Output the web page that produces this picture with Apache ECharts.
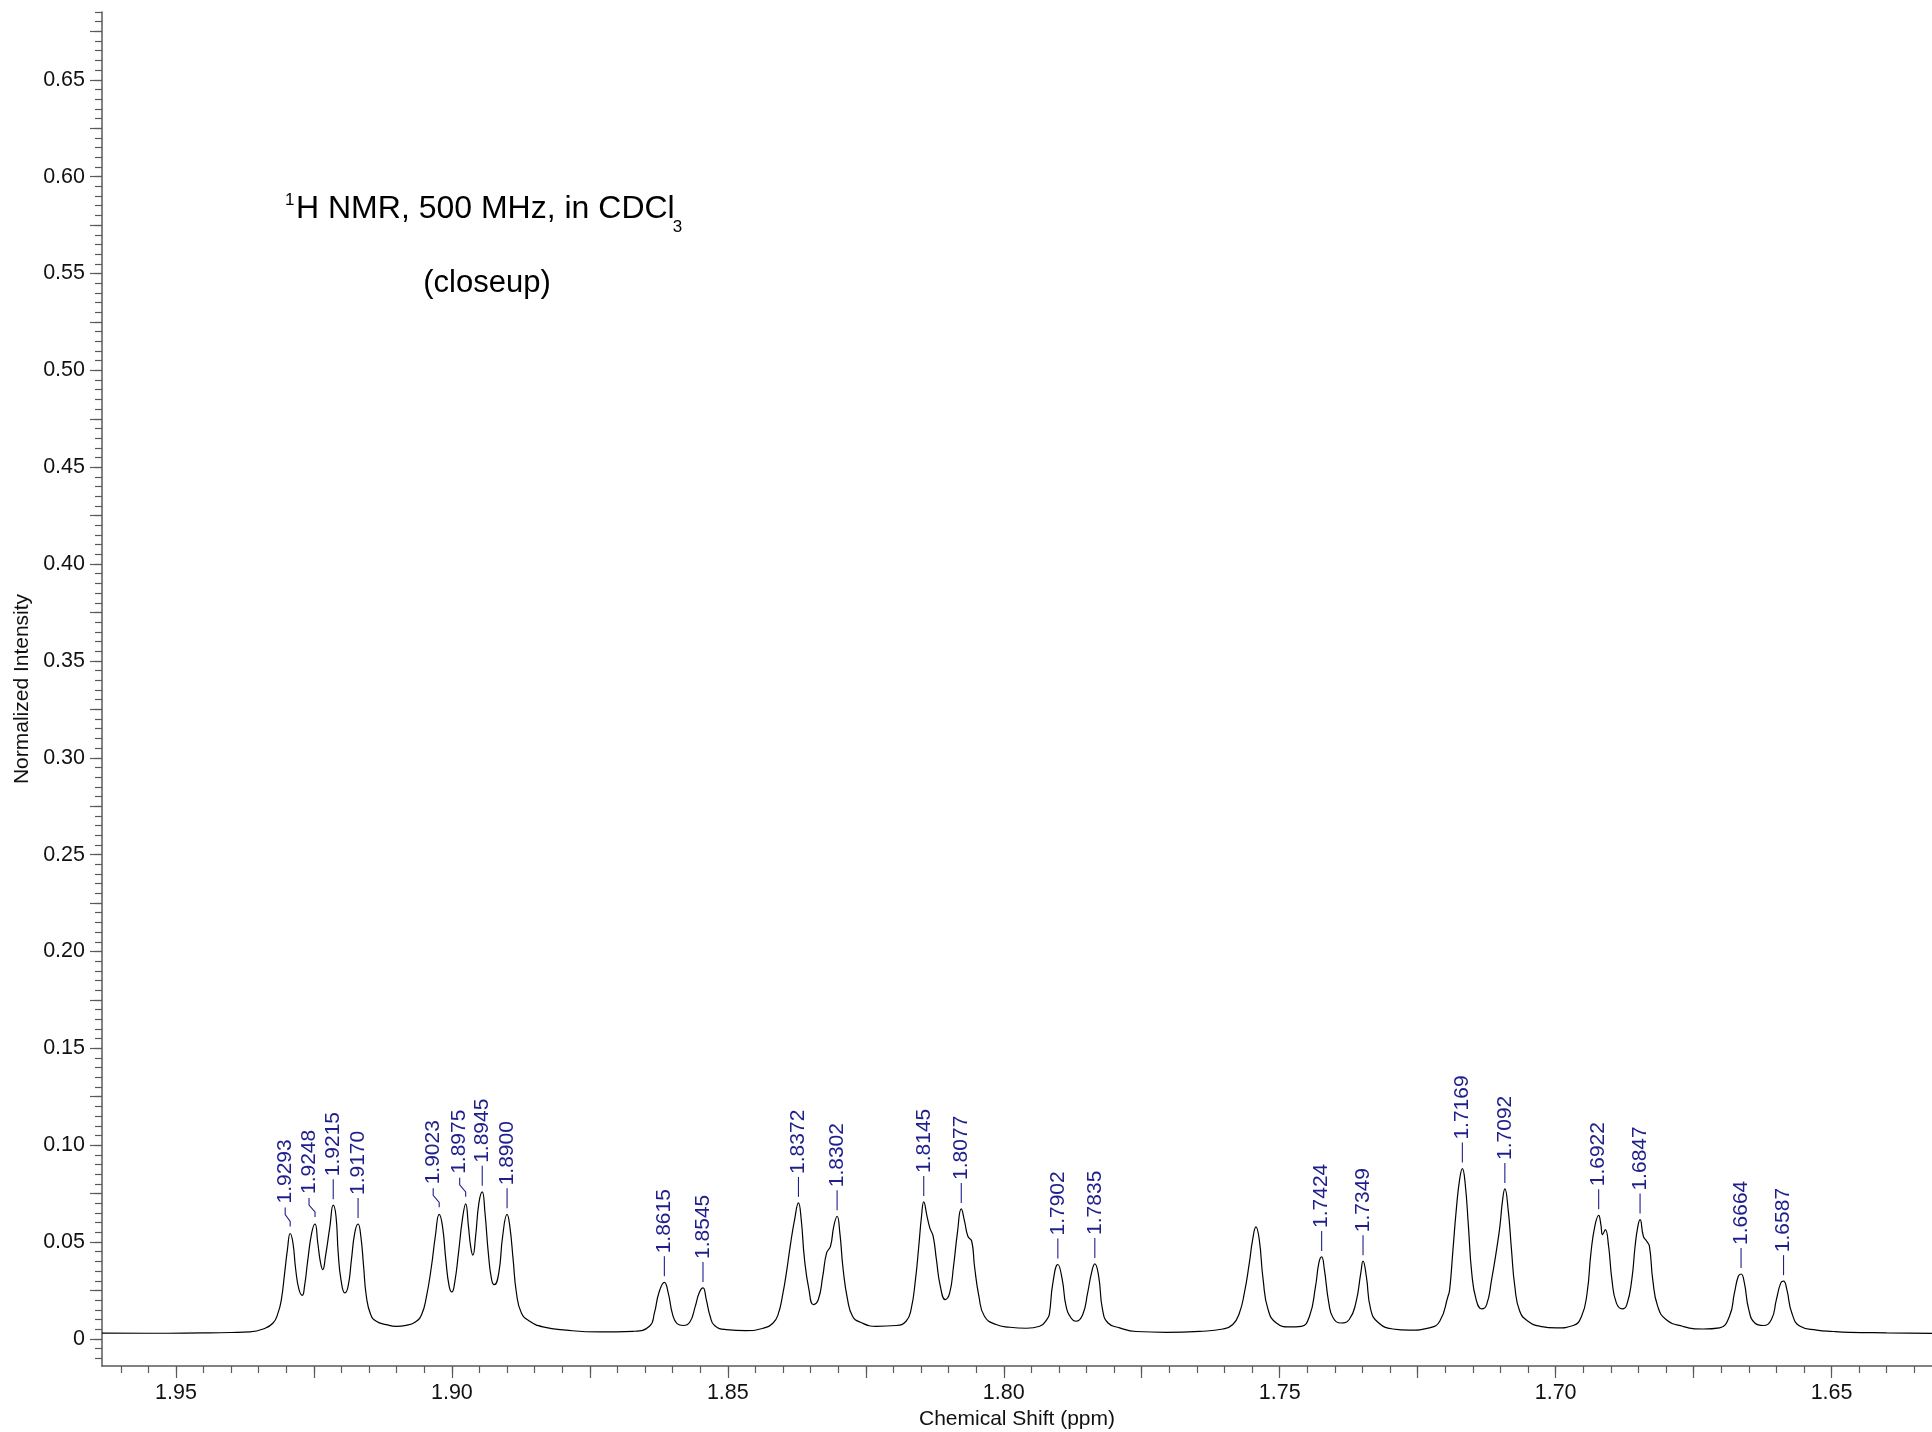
<!DOCTYPE html>
<html>
<head>
<meta charset="utf-8">
<title>1H NMR closeup</title>
<script src="https://cdn.jsdelivr.net/npm/echarts@6/dist/echarts.min.js"></script>
<style>
  html, body { margin: 0; padding: 0; background: #fff; }
  #chart { width: 1932px; height: 1432px; }
</style>
</head>
<body>
<div id="chart"></div>
<script>
// Spectrum trace: [chemical shift (ppm), normalized intensity]
const spectrum = [
  [1.9634, 0.0030], [1.9550, 0.0029], [1.9450, 0.0031], [1.9400, 0.0033],
  [1.9366, 0.0036], [1.9342, 0.0051], [1.9324, 0.0082], [1.9315, 0.0134],
  [1.9309, 0.0203], [1.9303, 0.0341], [1.9298, 0.0461], [1.9293, 0.0544],
  [1.9288, 0.0495], [1.9283, 0.0358], [1.9277, 0.0254], [1.9271, 0.0225],
  [1.9267, 0.0272], [1.9261, 0.0409], [1.9254, 0.0547], [1.9248, 0.0593],
  [1.9243, 0.0495], [1.9238, 0.0392], [1.9234, 0.0358], [1.9229, 0.0427],
  [1.9221, 0.0581], [1.9215, 0.0690], [1.9210, 0.0633], [1.9206, 0.0444],
  [1.9201, 0.0306], [1.9194, 0.0237], [1.9188, 0.0272], [1.9182, 0.0409],
  [1.9176, 0.0547], [1.9170, 0.0593], [1.9165, 0.0530], [1.9160, 0.0375],
  [1.9155, 0.0220], [1.9147, 0.0125], [1.9137, 0.0091], [1.9119, 0.0074],
  [1.9101, 0.0065], [1.9083, 0.0070], [1.9067, 0.0086], [1.9055, 0.0125],
  [1.9046, 0.0220], [1.9037, 0.0375], [1.9030, 0.0530], [1.9023, 0.0643],
  [1.9017, 0.0581], [1.9011, 0.0409], [1.9005, 0.0272], [1.9000, 0.0242],
  [1.8995, 0.0289], [1.8988, 0.0444], [1.8981, 0.0616], [1.8975, 0.0697],
  [1.8970, 0.0581], [1.8966, 0.0478], [1.8962, 0.0432], [1.8957, 0.0530],
  [1.8951, 0.0702], [1.8945, 0.0759], [1.8940, 0.0650], [1.8934, 0.0444],
  [1.8928, 0.0306], [1.8923, 0.0280], [1.8915, 0.0341], [1.8908, 0.0530],
  [1.8900, 0.0643], [1.8895, 0.0581], [1.8889, 0.0409], [1.8883, 0.0237],
  [1.8874, 0.0134], [1.8859, 0.0091], [1.8835, 0.0062], [1.8793, 0.0045],
  [1.8732, 0.0036], [1.8672, 0.0039],
  [1.8642, 0.0065], [1.8633, 0.0134], [1.8625, 0.0237], [1.8615, 0.0292],
  [1.8608, 0.0237], [1.8600, 0.0125], [1.8592, 0.0079], [1.8581, 0.0069],
  [1.8569, 0.0086], [1.8559, 0.0168], [1.8552, 0.0237], [1.8545, 0.0263],
  [1.8539, 0.0203], [1.8532, 0.0117], [1.8524, 0.0069], [1.8503, 0.0048],
  [1.8467, 0.0043], [1.8436, 0.0055], [1.8418, 0.0082], [1.8409, 0.0125],
  [1.8400, 0.0237], [1.8393, 0.0358], [1.8387, 0.0478], [1.8379, 0.0616],
  [1.8372, 0.0702], [1.8367, 0.0616], [1.8361, 0.0409], [1.8353, 0.0254],
  [1.8345, 0.0177], [1.8336, 0.0203], [1.8328, 0.0323], [1.8321, 0.0444],
  [1.8314, 0.0478], [1.8308, 0.0581], [1.8302, 0.0633], [1.8297, 0.0547],
  [1.8291, 0.0358], [1.8283, 0.0203], [1.8274, 0.0117], [1.8260, 0.0086],
  [1.8231, 0.0065], [1.8195, 0.0069], [1.8177, 0.0091], [1.8168, 0.0151],
  [1.8160, 0.0306], [1.8154, 0.0478], [1.8149, 0.0633], [1.8145, 0.0707],
  [1.8139, 0.0633], [1.8134, 0.0573], [1.8128, 0.0530], [1.8122, 0.0409],
  [1.8115, 0.0272], [1.8106, 0.0203], [1.8098, 0.0237], [1.8091, 0.0375],
  [1.8084, 0.0547], [1.8077, 0.0671], [1.8071, 0.0607], [1.8065, 0.0530],
  [1.8058, 0.0504], [1.8053, 0.0375], [1.8045, 0.0220], [1.8035, 0.0117],
  [1.8014, 0.0074], [1.7989, 0.0060], [1.7959, 0.0055], [1.7935, 0.0065],
  [1.7920, 0.0108],
  [1.7917, 0.0134], [1.7911, 0.0289], [1.7902, 0.0384], [1.7894, 0.0306],
  [1.7887, 0.0168], [1.7878, 0.0108], [1.7869, 0.0091], [1.7857, 0.0125],
  [1.7848, 0.0237], [1.7841, 0.0341], [1.7835, 0.0387], [1.7828, 0.0323],
  [1.7821, 0.0151], [1.7811, 0.0082], [1.7790, 0.0057], [1.7760, 0.0038],
  [1.7706, 0.0034], [1.7645, 0.0039], [1.7603, 0.0051], [1.7585, 0.0074],
  [1.7573, 0.0134], [1.7564, 0.0237], [1.7555, 0.0392], [1.7549, 0.0512],
  [1.7543, 0.0578], [1.7537, 0.0512], [1.7530, 0.0306], [1.7521, 0.0151],
  [1.7506, 0.0082], [1.7482, 0.0062], [1.7461, 0.0065], [1.7446, 0.0117],
  [1.7435, 0.0272], [1.7429, 0.0392], [1.7424, 0.0423], [1.7419, 0.0358],
  [1.7411, 0.0186], [1.7403, 0.0108], [1.7389, 0.0082], [1.7374, 0.0100],
  [1.7362, 0.0186], [1.7353, 0.0341], [1.7349, 0.0401], [1.7343, 0.0323],
  [1.7335, 0.0151], [1.7322, 0.0086], [1.7295, 0.0051], [1.7265, 0.0045],
  [1.7229, 0.0057], [1.7210, 0.0091], [1.7195, 0.0220],
  [1.7192, 0.0254], [1.7186, 0.0461], [1.7180, 0.0667], [1.7174, 0.0822],
  [1.7169, 0.0879], [1.7164, 0.0805], [1.7158, 0.0581], [1.7152, 0.0341],
  [1.7144, 0.0203], [1.7134, 0.0155], [1.7125, 0.0177], [1.7116, 0.0306],
  [1.7107, 0.0461], [1.7101, 0.0581], [1.7096, 0.0719], [1.7092, 0.0774],
  [1.7086, 0.0667], [1.7080, 0.0461], [1.7074, 0.0272], [1.7065, 0.0143],
  [1.7050, 0.0091], [1.7028, 0.0065], [1.6998, 0.0057], [1.6968, 0.0069],
  [1.6953, 0.0117], [1.6943, 0.0237], [1.6936, 0.0444], [1.6929, 0.0581],
  [1.6922, 0.0638], [1.6918, 0.0590], [1.6915, 0.0538], [1.6910, 0.0564],
  [1.6904, 0.0478], [1.6898, 0.0306], [1.6890, 0.0186], [1.6879, 0.0155],
  [1.6871, 0.0177], [1.6862, 0.0306], [1.6856, 0.0478], [1.6851, 0.0581],
  [1.6847, 0.0616], [1.6841, 0.0530], [1.6835, 0.0504], [1.6830, 0.0478],
  [1.6824, 0.0306], [1.6815, 0.0168], [1.6800, 0.0100], [1.6770, 0.0065],
  [1.6733, 0.0051], [1.6703, 0.0057], [1.6685, 0.0117], [1.6676, 0.0237],
  [1.6669, 0.0323], [1.6664, 0.0335], [1.6658, 0.0289], [1.6650, 0.0151],
  [1.6639, 0.0082], [1.6624, 0.0069], [1.6609, 0.0100], [1.6600, 0.0203],
  [1.6592, 0.0289], [1.6587, 0.0298], [1.6581, 0.0254], [1.6572, 0.0134],
  [1.6557, 0.0065], [1.6527, 0.0045], [1.6497, 0.0038], [1.6467, 0.0034],
  [1.6400, 0.0031], [1.6318, 0.0028]
];

// Picked peak positions (ppm)
const peakShifts = [
  1.9293, 1.9248, 1.9215, 1.9170, 1.9023, 1.8975, 1.8945, 1.8900,
  1.8615, 1.8545, 1.8372, 1.8302, 1.8145, 1.8077, 1.7902, 1.7835,
  1.7424, 1.7349, 1.7169, 1.7092, 1.6922, 1.6847, 1.6664, 1.6587
];

// Axis tick labels
const xTickLabels = [1.95, 1.90, 1.85, 1.80, 1.75, 1.70, 1.65];
const yTickLabels = [0, 0.05, 0.10, 0.15, 0.20, 0.25, 0.30, 0.35, 0.40, 0.45, 0.50, 0.55, 0.60, 0.65];

// Axis extents
const X_MIN = 1.6318, X_MAX = 1.9634;
const Y_MIN = -0.014, Y_MAX = 0.685;

// Tick positions: long ticks every 0.025, short ticks every 0.005
function ticksBetween(lo, hi, step) {
  const out = [];
  const start = Math.ceil(lo / step - 1e-9);
  const end = Math.floor(hi / step + 1e-9);
  for (let i = start; i <= end; i++) out.push(+(i * step).toFixed(4));
  return out;
}
const xMajorTicks = ticksBetween(X_MIN, X_MAX, 0.025);
const xMinorTicks = ticksBetween(X_MIN, X_MAX, 0.005);
const yMajorTicks = ticksBetween(Y_MIN, Y_MAX, 0.025);
const yMinorTicks = ticksBetween(Y_MIN, Y_MAX, 0.005);

// Labels whose connector is bent sideways to make room (px)
const labelNudge = { '1.9293': -5, '1.9248': -6, '1.9023': -6, '1.8975': -6 };

const FONT = '"Liberation Sans", Arial, Helvetica, sans-serif';
const AXIS_COLOR = '#5a5a5a';
const PEAK_COLOR = '#1f1f8c';

// Intensity of the trace at each picked shift
const peakPoints = peakShifts.map(s => {
  const hit = spectrum.find(p => Math.abs(p[0] - s) < 1e-6);
  return [s, hit ? hit[1] : 0];
});

const chart = echarts.init(document.getElementById('chart'), null, { renderer: 'canvas' });

// Title text geometry
const measureCtx = document.createElement('canvas').getContext('2d');
measureCtx.font = '32px ' + FONT;
const titleMain = 'H NMR, 500 MHz, in CDCl';
const titleX = 296;
const titleW = measureCtx.measureText(titleMain).width;

const axisNameStyle = { fontSize: 21, color: '#111', fontFamily: FONT };
const axisLabelStyle = { fontSize: 21.5, color: '#111', fontFamily: FONT };

chart.setOption({
  backgroundColor: '#ffffff',
  animation: false,
  grid: { left: 102, right: 0, top: 12, bottom: 66, containLabel: false, outerBoundsMode: 'none' },
  xAxis: [
    {
      type: 'value', inverse: true, min: X_MIN, max: X_MAX, position: 'bottom',
      axisLine: { show: true, onZero: false, lineStyle: { color: AXIS_COLOR, width: 1.5 } },
      axisTick: { show: true, customValues: xMajorTicks, length: 12, lineStyle: { color: AXIS_COLOR, width: 1.2 } },
      axisLabel: { show: true, customValues: xTickLabels, formatter: v => v.toFixed(2), margin: 16, ...axisLabelStyle },
      splitLine: { show: false },
      name: 'Chemical Shift (ppm)', nameLocation: 'middle', nameGap: 40, nameTextStyle: axisNameStyle
    },
    {
      type: 'value', inverse: true, min: X_MIN, max: X_MAX, position: 'bottom', gridIndex: 0,
      axisLine: { show: false, onZero: false },
      axisTick: { show: true, customValues: xMinorTicks, length: 7, lineStyle: { color: AXIS_COLOR, width: 1.2 } },
      axisLabel: { show: false },
      splitLine: { show: false }
    }
  ],
  yAxis: [
    {
      type: 'value', min: Y_MIN, max: Y_MAX, position: 'left',
      axisLine: { show: true, onZero: false, lineStyle: { color: AXIS_COLOR, width: 1.5 } },
      axisTick: { show: true, customValues: yMajorTicks, length: 12, lineStyle: { color: AXIS_COLOR, width: 1.2 } },
      axisLabel: { show: true, customValues: yTickLabels, formatter: v => (Math.abs(v) < 1e-9 ? '0' : v.toFixed(2)), margin: 17, ...axisLabelStyle },
      splitLine: { show: false },
      name: 'Normalized Intensity', nameLocation: 'middle', nameGap: 68, nameRotate: 90, nameTextStyle: axisNameStyle
    },
    {
      type: 'value', min: Y_MIN, max: Y_MAX, position: 'left', gridIndex: 0,
      axisLine: { show: false, onZero: false },
      axisTick: { show: true, customValues: yMinorTicks, length: 7, lineStyle: { color: AXIS_COLOR, width: 1.2 } },
      axisLabel: { show: false },
      splitLine: { show: false }
    }
  ],
  series: [
    {
      name: 'spectrum', type: 'line', xAxisIndex: 0, yAxisIndex: 0,
      data: spectrum, showSymbol: false, smooth: 0.5,
      lineStyle: { color: '#000', width: 1.2 }, silent: true, clip: true
    },
    {
      name: 'peaks', type: 'custom', xAxisIndex: 0, yAxisIndex: 0, clip: false,
      data: peakPoints,
      renderItem: (params, api) => {
        const shift = api.value(0);
        const p = api.coord([shift, api.value(1)]);
        const text = shift.toFixed(4);
        const dx = labelNudge[text] || 0;
        const lx = p[0] + dx;
        let pts, textY;
        if (dx) {
          pts = [[p[0], p[1] - 7], [p[0], p[1] - 12], [lx, p[1] - 19], [lx, p[1] - 26]];
          textY = p[1] - 30;
        } else {
          pts = [[p[0], p[1] - 6], [p[0], p[1] - 26]];
          textY = p[1] - 29;
        }
        return {
          type: 'group',
          children: [
            { type: 'polyline', shape: { points: pts }, style: { stroke: PEAK_COLOR, lineWidth: 1.1, fill: null } },
            {
              type: 'text', x: lx, y: textY, rotation: Math.PI / 2,
              style: { text: text, fill: PEAK_COLOR, font: '21px ' + FONT, align: 'left', verticalAlign: 'middle' }
            }
          ]
        };
      }
    }
  ],
  graphic: [
    { type: 'text', x: 285, y: 200, style: { text: '1', fill: '#000', font: '17px ' + FONT, align: 'left', verticalAlign: 'middle' } },
    { type: 'text', x: titleX, y: 209, style: { text: titleMain, fill: '#000', font: '32px ' + FONT, align: 'left', verticalAlign: 'middle' } },
    { type: 'text', x: titleX + titleW - 2, y: 227, style: { text: '3', fill: '#000', font: '17px ' + FONT, align: 'left', verticalAlign: 'middle' } },
    { type: 'text', x: 487, y: 283, style: { text: '(closeup)', fill: '#000', font: '31px ' + FONT, align: 'center', verticalAlign: 'middle' } }
  ]
});
</script>
</body>
</html>
